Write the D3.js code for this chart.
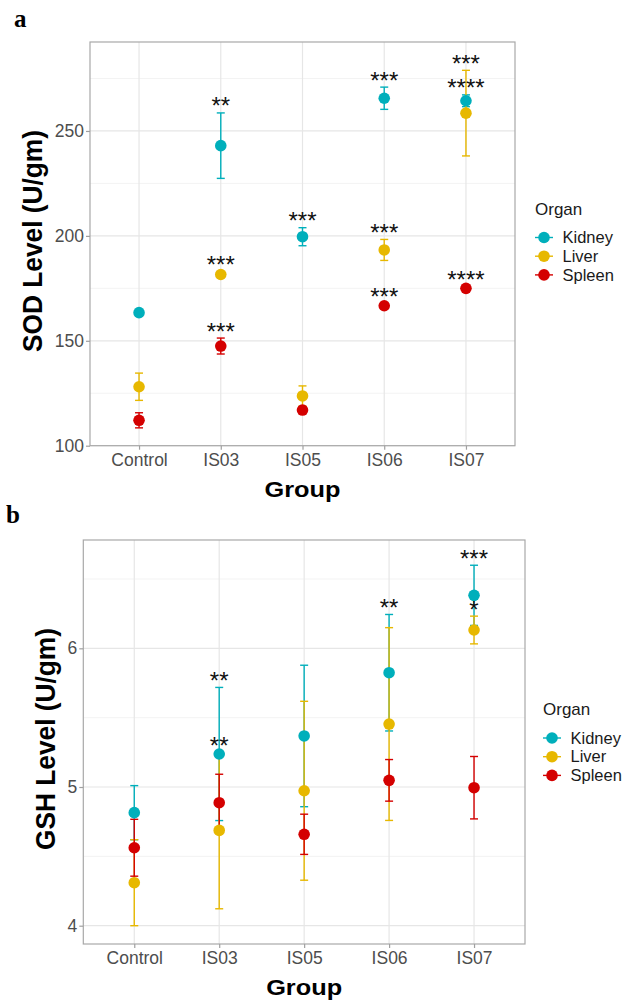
<!DOCTYPE html>
<html>
<head>
<meta charset="utf-8">
<script src="https://cdn.jsdelivr.net/npm/d3@7"></script>
<style>
  body { margin: 0; background: #fff; }
  svg { display: block; }
  text { font-family: "Liberation Sans", Arial, Helvetica, sans-serif; }
  text.panel-letter { font-family: "Liberation Serif", "Times New Roman", serif; }
</style>
</head>
<body>
<svg id="fig" width="626" height="1001"></svg>
<script>
// ---- data -------------------------------------------------------------
const groups = ["Control", "IS03", "IS05", "IS06", "IS07"];
const organs = ["Kidney", "Liver", "Spleen"];
const organColors = ["#00AFBB", "#E7B800", "#D40000"];

// SOD level (U/gm): mean, SD and significance marks per organ
const sodKidney   = [163.4, 243.0, 199.6, 265.6, 264.4];
const sodKidneySD = [0.8, 15.6, 4.3, 5.3, 2.8];
const sodKidneySig = ["", "**", "***", "***", "****"];
const sodLiver    = [128.1, 181.6, 123.7, 193.3, 258.5];
const sodLiverSD  = [6.5, 1.2, 4.8, 5.0, 20.4];
const sodLiverSig = ["", "***", "", "***", "***"];
const sodSpleen   = [112.1, 147.5, 117.0, 166.7, 175.0];
const sodSpleenSD = [3.6, 3.8, 1.2, 1.2, 1.0];
const sodSpleenSig = ["", "***", "", "***", "****"];
const sodTicks = [100, 150, 200, 250];
const sodMinor = [125, 175, 225, 275];

// GSH level (U/gm): mean, SD and significance marks per organ
const gshKidney   = [4.815, 5.238, 5.368, 5.824, 6.382];
const gshKidneySD = [0.195, 0.48, 0.51, 0.42, 0.217];
const gshKidneySig = ["", "**", "", "**", "***"];
const gshLiver    = [4.31, 4.687, 4.973, 5.454, 6.132];
const gshLiverSD  = [0.31, 0.565, 0.645, 0.695, 0.10];
const gshLiverSig = ["", "**", "", "", "*"];
const gshSpleen   = [4.562, 4.887, 4.659, 5.048, 4.995];
const gshSpleenSD = [0.205, 0.205, 0.145, 0.15, 0.225];
const gshSpleenSig = ["", "", "", "", ""];
const gshTicks = [4, 5, 6];
const gshMinor = [4.5, 5.5, 6.5];

// ---- drawing ----------------------------------------------------------
const svg = d3.select("#fig");

function seriesOf(means, sds, sigs) {
  return organs.map((o, i) => ({
    organ: o, color: organColors[i],
    rows: groups.map((g, j) => ({ group: g, mean: means[i][j], sd: sds[i][j], sig: sigs[i][j] }))
  }));
}

function drawPanel(cfg) {
  const g = svg.append("g");
  const x = d3.scalePoint().domain(groups).range([cfg.left, cfg.right]).padding(0.6);
  const y = d3.scaleLinear().domain(cfg.domain).range([cfg.bottom, cfg.top]);

  // grid
  g.append("g").selectAll("line").data(cfg.minor).join("line")
    .attr("x1", cfg.left).attr("x2", cfg.right)
    .attr("y1", d => y(d)).attr("y2", d => y(d))
    .attr("stroke", "#F3F3F3").attr("stroke-width", 1);
  g.append("g").selectAll("line").data(cfg.ticks).join("line")
    .attr("x1", cfg.left).attr("x2", cfg.right)
    .attr("y1", d => y(d)).attr("y2", d => y(d))
    .attr("stroke", "#E6E6E6").attr("stroke-width", 1.2);
  g.append("g").selectAll("line").data(groups).join("line")
    .attr("x1", d => x(d)).attr("x2", d => x(d))
    .attr("y1", cfg.top).attr("y2", cfg.bottom)
    .attr("stroke", "#E6E6E6").attr("stroke-width", 1.2);

  const capHalf = 4;
  // error bars
  cfg.series.forEach(s => {
    const eb = g.append("g").attr("stroke", s.color).attr("stroke-width", 1.4).attr("fill", "none");
    s.rows.forEach(r => {
      const cx = x(r.group), yt = y(r.mean + r.sd), yb = y(r.mean - r.sd);
      eb.append("line").attr("x1", cx).attr("x2", cx).attr("y1", yt).attr("y2", yb);
      eb.append("line").attr("x1", cx - capHalf).attr("x2", cx + capHalf).attr("y1", yt).attr("y2", yt);
      eb.append("line").attr("x1", cx - capHalf).attr("x2", cx + capHalf).attr("y1", yb).attr("y2", yb);
    });
  });
  // points
  cfg.series.forEach(s => {
    g.append("g").selectAll("circle").data(s.rows).join("circle")
      .attr("cx", d => x(d.group)).attr("cy", d => y(d.mean))
      .attr("r", 5.8).attr("fill", s.color);
  });
  // significance stars just above each upper error bar
  cfg.series.forEach(s => {
    g.append("g").selectAll("text").data(s.rows.filter(d => d.sig)).join("text")
      .attr("x", d => x(d.group)).attr("y", d => y(d.mean + d.sd) + 1.5)
      .attr("text-anchor", "middle").attr("font-size", 24).attr("fill", "#111")
      .text(d => d.sig);
  });

  // panel border
  g.append("rect").attr("x", cfg.left).attr("y", cfg.top)
    .attr("width", cfg.right - cfg.left).attr("height", cfg.bottom - cfg.top)
    .attr("fill", "none").attr("stroke", "#A8A8A8").attr("stroke-width", 1.2);

  // axes
  const ax = g.append("g").attr("transform", `translate(${cfg.left},0)`)
    .call(d3.axisLeft(y).tickValues(cfg.ticks).tickFormat(d3.format("~g")).tickSize(4).tickPadding(2));
  const bx = g.append("g").attr("transform", `translate(0,${cfg.bottom})`)
    .call(d3.axisBottom(x).tickSize(4).tickPadding(4));
  [ax, bx].forEach(a => {
    a.select(".domain").remove();
    a.selectAll(".tick line").attr("stroke", "#A0A0A0").attr("stroke-width", 1.2);
    a.selectAll(".tick text").attr("font-size", 17.5).attr("fill", "#4D4D4D");
  });

  // axis titles
  g.append("text").attr("x", (cfg.left + cfg.right) / 2).attr("y", cfg.bottom + 51)
    .attr("text-anchor", "middle").attr("font-size", 22).attr("font-weight", "bold")
    .attr("textLength", 76).attr("lengthAdjust", "spacingAndGlyphs")
    .text("Group");
  g.append("text")
    .attr("transform", `translate(${cfg.yTitleX},${cfg.yTitleY}) rotate(-90)`)
    .attr("text-anchor", "middle").attr("font-size", 28).attr("font-weight", "bold")
    .attr("textLength", 222).attr("lengthAdjust", "spacingAndGlyphs")
    .text(cfg.yTitle);

  // panel letter
  g.append("text").attr("class", "panel-letter")
    .attr("x", cfg.letterX).attr("y", cfg.letterY)
    .attr("font-size", 25).attr("font-weight", "bold").text(cfg.letter);

  // legend
  const lg = g.append("g");
  lg.append("text").attr("x", cfg.legX - 9).attr("y", cfg.legY - 23)
    .attr("font-size", 17).attr("fill", "#1a1a1a").text("Organ");
  organs.forEach((o, i) => {
    const cy = cfg.legY + i * 18.7;
    lg.append("line").attr("x1", cfg.legX - 9).attr("x2", cfg.legX + 9)
      .attr("y1", cy).attr("y2", cy).attr("stroke", organColors[i]).attr("stroke-width", 1.4);
    lg.append("circle").attr("cx", cfg.legX).attr("cy", cy).attr("r", 5.8).attr("fill", organColors[i]);
    lg.append("text").attr("x", cfg.legX + 18.5).attr("y", cy).attr("dy", "0.35em")
      .attr("font-size", 16.5).attr("fill", "#1a1a1a").text(o);
  });
}

drawPanel({
  letter: "a", letterX: 14, letterY: 27,
  left: 90, right: 515, top: 42, bottom: 445.7,
  domain: [100, 292.4], ticks: sodTicks, minor: sodMinor,
  yTitle: "SOD Level (U/gm)", yTitleX: 42, yTitleY: 241,
  legX: 544, legY: 237.5,
  series: seriesOf([sodKidney, sodLiver, sodSpleen],
                   [sodKidneySD, sodLiverSD, sodSpleenSD],
                   [sodKidneySig, sodLiverSig, sodSpleenSig])
});

drawPanel({
  letter: "b", letterX: 6, letterY: 523,
  left: 83.3, right: 525, top: 540, bottom: 944,
  domain: [3.868, 6.781], ticks: gshTicks, minor: gshMinor,
  yTitle: "GSH Level (U/gm)", yTitleX: 55, yTitleY: 739,
  legX: 552, legY: 738,
  series: seriesOf([gshKidney, gshLiver, gshSpleen],
                   [gshKidneySD, gshLiverSD, gshSpleenSD],
                   [gshKidneySig, gshLiverSig, gshSpleenSig])
});
</script>
</body>
</html>
